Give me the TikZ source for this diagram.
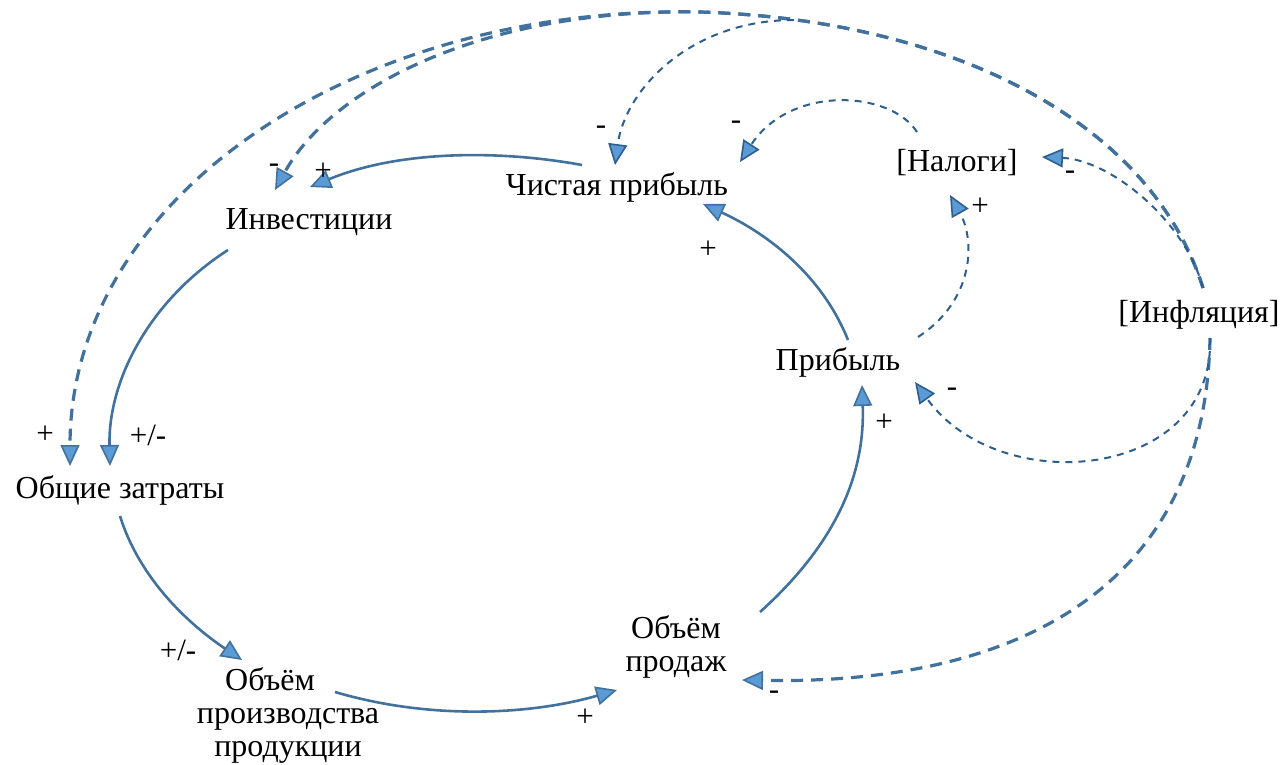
\documentclass[tikz,border=0pt]{standalone}
\usepackage{fontspec}
\setmainfont{Liberation Serif}
\newfontfamily\tnr{Liberation Serif}
\usetikzlibrary{arrows.meta}
\definecolor{lc}{HTML}{41719C}
\definecolor{lcd}{HTML}{2E5E8E}
\definecolor{af}{HTML}{5B9BD5}
\begin{document}
\begin{tikzpicture}[x=0.5pt,y=-0.5pt,
 var/.style={inner sep=0pt, align=center, font=\tnr\fontsize{16}{16.5}\selectfont},
 sgn/.style={inner sep=0pt, font=\tnr\fontsize{15.5}{15.5}\selectfont},
 tipa/.style={-{Triangle[length=10.5pt,width=9.5pt,fill=af,line width=0.8pt]}},
 solidl/.style={draw=lc, line width=1.3pt, tipa},
 thickd/.style={draw=lc, line width=1.6pt, dash pattern=on 6pt off 4pt, tipa},
 thind/.style={draw=lcd, line width=1pt, dash pattern=on 3.5pt off 3pt, tipa},
]
\useasboundingbox (0,0) rectangle (1280,765);
% variables
\node[var] (inv)  at (309,222) {Инвестиции};
\node[var] (np)   at (617,187) {Чистая прибыль};
\node[var] (nal)  at (957,163) {[Налоги]};
\node[var] (infl) at (1199,315) {[Инфляция]};
\node[var] (prib) at (838,362) {Прибыль};
\node[var] (oz)   at (120,490) {Общие затраты};
\node[var] (ovp)  at (288,715) {Объём\hspace*{18pt}\\производства\\продукции};
\node[var] (ops)  at (676,647) {Объём\\продаж};
% helper coordinates on the shared arc
\coordinate (top) at (700,12);
\coordinate (brNP) at (794,20);
% solid links
\draw[solidl] ([shift={(-35,-22)}]np.center) .. controls (500,150) and (400,150) .. ([shift={(1,-35)}]inv.center);
\draw[solidl] ([shift={(-81,28)}]inv.center) .. controls (150,300) and (108,380) .. ([shift={(-10,-24)}]oz.center);
\draw[solidl] ([shift={(0,26)}]oz.center) .. controls (140,580) and (190,625) .. ([shift={(-46,-55)}]ovp.center);
\draw[solidl] ([shift={(47,-23)}]ovp.center) .. controls (430,720) and (530,715) .. ([shift={(-59,43)}]ops.center);
\draw[solidl] ([shift={(84,-35)}]ops.center) .. controls (840,540) and (865,470) .. ([shift={(24,23)}]prib.center);
\draw[solidl] ([shift={(10,-22)}]prib.center) .. controls (820,270) and (760,230) .. ([shift={(86,17)}]np.center);
% thick dashed links from inflation
\draw[thickd] ([shift={(4,-27)}]infl.center) .. controls (1150,120) and (950,20) .. (top) .. controls (350,5) and (70,200) .. ([shift={(-50,-24)}]oz.center);
\draw[thickd] ([shift={(4,-27)}]infl.center) .. controls (1150,120) and (950,20) .. (top) .. controls (480,8) and (330,90) .. ([shift={(-34,-32)}]inv.center);
\draw[thickd] ([shift={(11,23)}]infl.center) .. controls (1205,600) and (1000,685) .. ([shift={(66,33)}]ops.center);
% thin dashed links
\draw[thind] (brNP) .. controls (690,20) and (625,90) .. ([shift={(-2,-22)}]np.center);
\draw[thind] ([shift={(4,-27)}]infl.center) .. controls (1185,220) and (1110,160) .. ([shift={(85,-6)}]nal.center);
\draw[thind] ([shift={(11,23)}]infl.center) .. controls (1215,480) and (1000,500) .. ([shift={(77,20)}]prib.center);
\draw[thind] ([shift={(-40,-31)}]nal.center) .. controls (890,90) and (790,85) .. ([shift={(123,-25)}]np.center);
\draw[thind] ([shift={(80,-25)}]prib.center) .. controls (975,300) and (975,240) .. ([shift={(-7,32)}]nal.center);
% signs
\node[sgn] (s1)  at (45,435)  {+};
\node[sgn] (s2)  at (148,435) {+/-};
\node[sgn] (s3)  at (274,168) {-};
\node[sgn] (s4)  at (323,172) {+};
\node[sgn] (s5)  at (601,130) {-};
\node[sgn] (s6)  at (736,125) {-};
\node[sgn] (s7)  at (708,250) {+};
\node[sgn] (s8)  at (980,207) {+};
\node[sgn] (s9)  at (1070,175) {-};
\node[sgn] (s10) at (952,392) {-};
\node[sgn] (s11) at (884,423) {+};
\node[sgn] (s12) at (178,650) {+/-};
\node[sgn] (s13) at (585,718) {+};
\node[sgn] (s14) at (774,695) {-};
\end{tikzpicture}
\end{document}
